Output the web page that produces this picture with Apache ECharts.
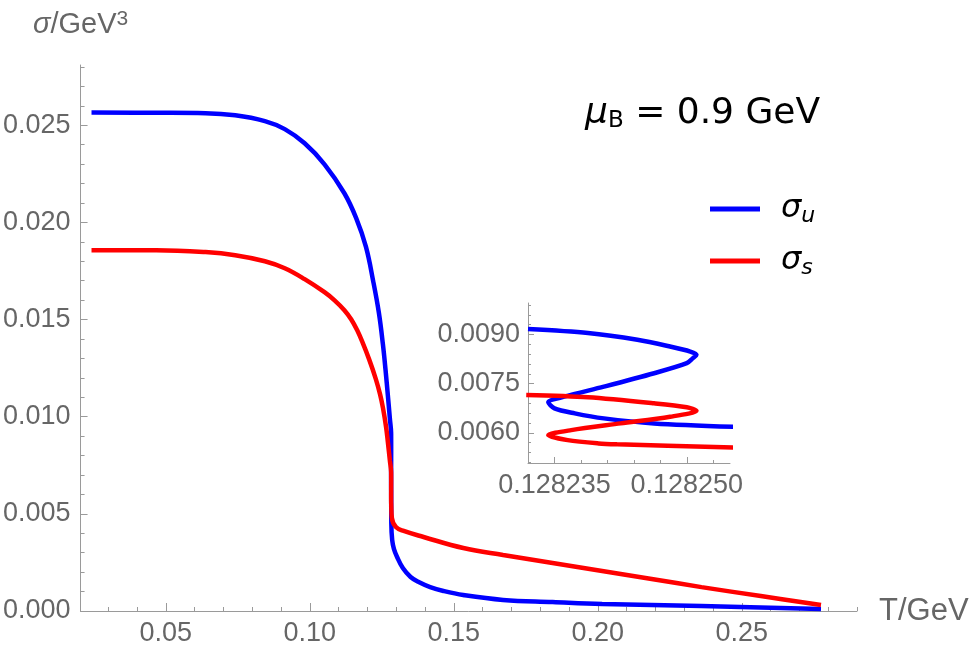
<!DOCTYPE html>
<html>
<head>
<meta charset="utf-8">
<script src="https://cdn.jsdelivr.net/npm/echarts@6/dist/echarts.min.js"></script>
<style>
  html, body { margin: 0; padding: 0; background: #fff; }
  #chart { width: 975px; height: 653px; }
</style>
</head>
<body>
<div id="chart"></div>
<script>
// sigma_u (blue): low-T branch, S-shaped jump, high-T branch  (T in GeV, sigma in GeV^3)
var uColdT = [0.0242, 0.0466, 0.0638, 0.0741, 0.0844, 0.0913, 0.0982, 0.1051, 0.1120, 0.1161, 0.1195, 0.1220, 0.1240, 0.1254, 0.1263, 0.1271, 0.1278];
var uColdSigma = [0.02565, 0.02564, 0.02562, 0.02551, 0.02521, 0.02480, 0.02407, 0.02299, 0.02150, 0.02022, 0.01874, 0.01698, 0.01533, 0.01370, 0.01240, 0.01110, 0.00990];
var uJumpT = [0.128232, 0.1282388, 0.1282444, 0.1282481, 0.1282504, 0.1282511, 0.1282507, 0.1282500, 0.1282463, 0.1282406, 0.1282361, 0.1282343, 0.1282350, 0.1282373, 0.1282406, 0.1282463, 0.1282553];
var uJumpSigma = [0.009165, 0.009043, 0.008838, 0.008633, 0.008480, 0.008379, 0.008278, 0.008124, 0.007818, 0.007408, 0.007102, 0.006930, 0.006747, 0.006594, 0.006441, 0.006288, 0.006184];
var uHotT = [0.1283, 0.1286, 0.1292, 0.1303, 0.1323, 0.1350, 0.1378, 0.1418, 0.1464, 0.1533, 0.1671, 0.1843, 0.2015, 0.2360, 0.2775];
var uHotSigma = [0.00453, 0.00365, 0.00320, 0.00278, 0.00221, 0.00175, 0.00149, 0.00123, 0.00103, 0.00082, 0.00057, 0.00046, 0.00036, 0.00026, 0.00010];

// sigma_s (red)
var sColdT = [0.0242, 0.0466, 0.0638, 0.0741, 0.0844, 0.0913, 0.0982, 0.1051, 0.1085, 0.1120, 0.1144, 0.1165, 0.1182, 0.1206, 0.1229, 0.1244, 0.1254, 0.1265, 0.1271, 0.1278];
var sColdSigma = [0.01857, 0.01857, 0.01847, 0.01831, 0.01800, 0.01764, 0.01708, 0.01641, 0.01600, 0.01548, 0.01500, 0.01443, 0.01386, 0.01295, 0.01195, 0.01115, 0.01045, 0.00945, 0.00870, 0.00775];
var sJumpT = [0.1282318, 0.1282388, 0.1282463, 0.1282500, 0.1282511, 0.1282481, 0.1282425, 0.1282369, 0.1282343, 0.1282365, 0.1282400, 0.1282421, 0.1282553];
var sJumpSigma = [0.007154, 0.007084, 0.006900, 0.006778, 0.006673, 0.006490, 0.006288, 0.006083, 0.005930, 0.005777, 0.005676, 0.005650, 0.005553];
var sHotT = [0.1285, 0.1299, 0.1326, 0.1395, 0.1533, 0.1671, 0.1843, 0.2015, 0.2187, 0.2360, 0.2566, 0.2775];
var sHotSigma = [0.00478, 0.00432, 0.00412, 0.00381, 0.00324, 0.00288, 0.00247, 0.00206, 0.00165, 0.00123, 0.00077, 0.00031];

// tick labels
var mainXLabels = [0.05, 0.10, 0.15, 0.20, 0.25];
var mainYLabels = [0.000, 0.005, 0.010, 0.015, 0.020, 0.025];
var insetXLabels = [0.128235, 0.128250];
var insetYLabels = [0.0060, 0.0075, 0.0090];

function pairs(xs, ys) {
  var out = [];
  for (var i = 0; i < xs.length; i++) out.push([xs[i], ys[i]]);
  return out;
}
function steps(from, to, step, scale) {
  var out = [];
  for (var k = from; k <= to; k += step) out.push(k / scale);
  return out;
}

var uMain = pairs(uColdT.concat(uJumpT, uHotT), uColdSigma.concat(uJumpSigma, uHotSigma));
var sMain = pairs(sColdT.concat(sJumpT, sHotT), sColdSigma.concat(sJumpSigma, sHotSigma));

var gray = '#9a9a9a';
var labelGray = '#666';
var font = 'Liberation Sans';
var wide = 'DejaVu Sans';

// axis with line, labels and minor ticks
function baseAxis(opt) {
  return Object.assign({
    type: 'value',
    axisLine: { show: true, lineStyle: { color: gray, width: 1 } },
    splitLine: { show: false }
  }, opt);
}
// overlay axis for the longer major ticks only
function majorAxis(opt, ticks, len) {
  return Object.assign({
    type: 'value',
    axisLine: { show: false },
    splitLine: { show: false },
    axisLabel: { show: false },
    axisTick: { show: true, inside: true, length: len, customValues: ticks, lineStyle: { color: gray } }
  }, opt);
}
function ticks(values, len) {
  return { show: true, inside: true, length: len, customValues: values, lineStyle: { color: gray } };
}
function labels(values, digits, margin) {
  return {
    color: labelGray, fontSize: 27, fontFamily: font, margin: margin, customValues: values,
    formatter: function (v) { return v.toFixed(digits); }
  };
}

var chart = echarts.init(document.getElementById('chart'));

var option = {
  animation: false,
  backgroundColor: '#fff',
  title: {
    text: '{m|μ}{b|B}{t| = 0.9 GeV}',
    left: 580,
    top: 90,
    textStyle: {
      rich: {
        m: { fontFamily: wide, fontSize: 36, fontStyle: 'italic', fontWeight: 'normal', lineHeight: 38, color: '#000' },
        b: { fontFamily: wide, fontSize: 23, fontWeight: 'normal', lineHeight: 18, verticalAlign: 'bottom', color: '#000' },
        t: { fontFamily: wide, fontSize: 36, fontWeight: 'normal', lineHeight: 38, color: '#000' }
      }
    }
  },
  legend: {
    data: ['u', 's'],
    orient: 'vertical',
    left: 705,
    top: 188,
    icon: 'rect',
    itemWidth: 50,
    itemHeight: 5,
    itemGap: 18,
    formatter: function (name) { return '{s|σ}{b|' + name + '}'; },
    textStyle: {
      padding: [0, 0, 0, 16],
      rich: {
        s: { fontFamily: wide, fontSize: 32, fontStyle: 'italic', lineHeight: 36, color: '#000' },
        b: { fontFamily: wide, fontSize: 22, fontStyle: 'italic', lineHeight: 20, verticalAlign: 'bottom', color: '#000' }
      }
    }
  },
  grid: [
    { left: 76, right: 118, top: 65, bottom: 42 },
    { left: 528, top: 303, width: 202, height: 160 }
  ],
  xAxis: [
    baseAxis({
      gridIndex: 0, min: 0.0204, max: 0.29, position: 'bottom',
      name: 'T/GeV', nameLocation: 'end', nameGap: 22,
      nameTextStyle: { color: labelGray, fontSize: 31, fontFamily: font },
      axisTick: ticks(steps(3, 29, 1, 100), 4),
      axisLabel: labels(mainXLabels, 2, 9)
    }),
    majorAxis({ gridIndex: 0, min: 0.0204, max: 0.29, position: 'bottom' }, mainXLabels, 8),
    baseAxis({
      gridIndex: 1, min: 0.128232, max: 0.1282549, position: 'bottom',
      axisTick: ticks(steps(128232, 128253, 3, 1e6), 3),
      axisLabel: labels(insetXLabels, 6, 9)
    }),
    majorAxis({ gridIndex: 1, min: 0.128232, max: 0.1282549, position: 'bottom' }, insetXLabels, 6)
  ],
  yAxis: [
    baseAxis({
      gridIndex: 0, min: 0, max: 0.0281, position: 'left',
      name: '{i|σ}{n|/GeV}{p|3}', nameLocation: 'end', nameGap: 24,
      nameTextStyle: {
        rich: {
          i: { fontFamily: font, fontSize: 29, fontStyle: 'italic', lineHeight: 32, color: labelGray },
          n: { fontFamily: font, fontSize: 29, lineHeight: 32, color: labelGray },
          p: { fontFamily: font, fontSize: 21, lineHeight: 16, verticalAlign: 'top', color: labelGray }
        }
      },
      axisTick: ticks(steps(0, 28, 1, 1000), 4),
      axisLabel: labels(mainYLabels, 3, 10)
    }),
    majorAxis({ gridIndex: 0, min: 0, max: 0.0281, position: 'left' }, mainYLabels, 7),
    baseAxis({
      gridIndex: 1, min: 0.00508, max: 0.00996, position: 'left',
      axisTick: ticks(steps(51, 99, 3, 10000), 3),
      axisLabel: labels(insetYLabels, 4, 8)
    }),
    majorAxis({ gridIndex: 1, min: 0.00508, max: 0.00996, position: 'left' }, insetYLabels, 6)
  ],
  series: [
    {
      name: 'u', type: 'line', xAxisIndex: 0, yAxisIndex: 0,
      data: uMain, showSymbol: false, symbol: 'none', smooth: 0.4,
      color: '#0000ff', lineStyle: { color: '#0000ff', width: 4.5 }, z: 3
    },
    {
      name: 's', type: 'line', xAxisIndex: 0, yAxisIndex: 0,
      data: sMain, showSymbol: false, symbol: 'none', smooth: 0.4,
      color: '#ff0000', lineStyle: { color: '#ff0000', width: 4.5 }, z: 4
    },
    {
      name: 'u inset', type: 'line', xAxisIndex: 2, yAxisIndex: 2,
      data: pairs(uJumpT, uJumpSigma), showSymbol: false, symbol: 'none', smooth: 0.3,
      lineStyle: { color: '#0000ff', width: 4.5 }, z: 3
    },
    {
      name: 's inset', type: 'line', xAxisIndex: 2, yAxisIndex: 2,
      data: pairs(sJumpT, sJumpSigma), showSymbol: false, symbol: 'none', smooth: 0.3,
      lineStyle: { color: '#ff0000', width: 4.5 }, z: 4
    }
  ]
};

chart.setOption(option);
</script>
</body>
</html>
